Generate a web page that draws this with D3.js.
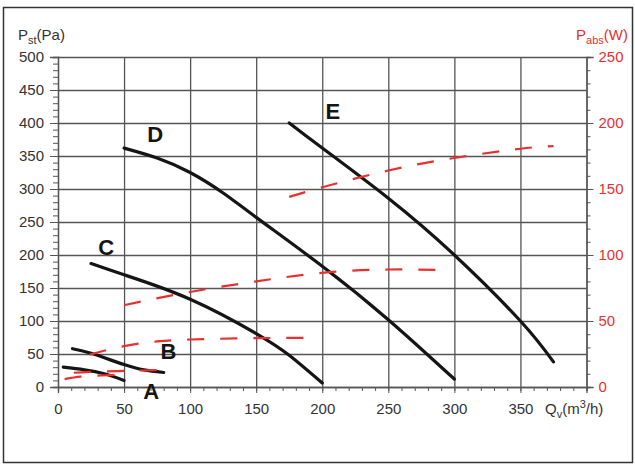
<!DOCTYPE html>
<html>
<head>
<meta charset="utf-8">
<script src="https://cdn.jsdelivr.net/npm/d3@7"></script>
<style>
	body { margin: 0; background: #fff; }
	svg { display: block; font-family: "Liberation Sans", Arial, sans-serif; }
	.axis path, .axis line { stroke: #555; }
	.grid line { stroke: #555; stroke-width: 1.3; }
	.grid path { display: none; }
</style>
</head>
<body>
<div id="chart-area"></div>
<script>

// ---- DATA ----
// Airflow Qv (m3/h) and static pressure Pst (Pa), one pair of arrays per fan
let qA = [4, 20, 35, 50],
	pstA = [30, 26, 20, 10];
let qB = [11, 25, 50, 65, 80],
	pstB = [58, 51, 34, 26, 22];
let qC = [25, 50, 100, 150, 175, 200],
	pstC = [187, 170, 133, 81, 48, 6];
let qD = [50, 75, 100, 125, 150, 200, 250, 300],
	pstD = [362, 347, 325, 294, 257, 183, 102, 12];
let qE = [175, 200, 250, 300, 350, 375],
	pstE = [400, 362, 286, 200, 100, 38];

// Absorbed power Pabs (W), red dashed curves
let qWA = [5, 17, 30, 43, 50],
	wA = [6, 7.8, 8.6, 9.2, 9.5];
let qWB = [12, 24, 45, 62, 80],
	wB = [10.8, 11.5, 12.1, 12.5, 13];
let qWC = [24, 50, 75, 100, 150, 195],
	wC = [24.5, 31, 34.5, 36, 37, 37.2];
let qWD = [50, 100, 150, 200, 250, 290],
	wD = [62, 72, 80, 86.5, 89, 88.6];
let qWE = [175, 200, 250, 300, 350, 375],
	wE = [144, 151.3, 164, 173.5, 180.5, 182.5];

// Curve letters and where they sit (Qv, Pst)
let labelNames = ["A", "B", "C", "D", "E"],
	labelQ = [70.5, 83.5, 36.5, 73.5, 208],
	labelPst = [-18, 42, 200, 371, 406];

// Tick labels
let qTicks = [0, 50, 100, 150, 200, 250, 300, 350],
	pstTicks = [0, 50, 100, 150, 200, 250, 300, 350, 400, 450, 500],
	wTicks = [0, 50, 100, 150, 200, 250];


// CHART AREA
let W = 635, H = 465;
let margin = {top: 57, right: 48.5, bottom: 78, left: 58};

let svg = d3.select("#chart-area").append("svg")
	.attr("width", W)
	.attr("height", H);

// outer frame
svg.append("rect")
	.attr("x", 3.5).attr("y", 7.5)
	.attr("width", 629).attr("height", 455)
	.attr("fill", "#fff")
	.attr("stroke", "#333")
	.attr("stroke-width", 1.5);

let x = d3.scaleLinear().domain([0, 400]).range([margin.left, W - margin.right]);
let y = d3.scaleLinear().domain([0, 500]).range([H - margin.bottom, margin.top]);
let yW = d3.scaleLinear().domain([0, 250]).range([H - margin.bottom, margin.top]);

// GRID
svg.append("g")
	.attr("class", "grid")
	.attr("transform", "translate(0," + y(0) + ")")
	.call(d3.axisBottom(x).tickValues(d3.range(50, 400, 50)).tickSize(-(y(0) - y(500))).tickFormat(""));

svg.append("g")
	.attr("class", "grid")
	.attr("transform", "translate(" + x(0) + ",0)")
	.call(d3.axisLeft(y).tickValues(d3.range(50, 550, 50)).tickSize(-(x(400) - x(0))).tickFormat(""));

// AXIS - minor ticks
svg.append("g")
	.attr("class", "axis")
	.attr("transform", "translate(" + x(0) + ",0)")
	.call(d3.axisLeft(y).tickValues(d3.range(0, 501, 10)).tickSize(5).tickFormat(""));

svg.append("g")
	.attr("class", "axis")
	.attr("transform", "translate(0," + y(0) + ")")
	.call(d3.axisBottom(x).tickValues(d3.range(0, 401, 10)).tickSize(4).tickFormat(""));

svg.append("g")
	.attr("class", "axis")
	.attr("transform", "translate(" + x(400) + ",0)")
	.call(d3.axisRight(yW).tickValues(d3.range(0, 251, 10)).tickSize(4).tickFormat(""));

// AXIS - major ticks with labels
let yAxis = svg.append("g")
	.attr("class", "axis")
	.attr("transform", "translate(" + x(0) + ",0)")
	.call(d3.axisLeft(y).tickValues(pstTicks).tickSize(8).tickPadding(6));

let xAxis = svg.append("g")
	.attr("class", "axis")
	.attr("transform", "translate(0," + y(0) + ")")
	.call(d3.axisBottom(x).tickValues(qTicks).tickSize(6).tickPadding(10));

let wAxis = svg.append("g")
	.attr("class", "axis")
	.attr("transform", "translate(" + x(400) + ",0)")
	.call(d3.axisRight(yW).tickValues(wTicks).tickSize(7).tickPadding(5));

svg.selectAll(".axis path").attr("stroke-width", 1.3);
svg.selectAll(".axis text")
	.attr("font-size", 15)
	.attr("font-family", "Liberation Sans, Arial, sans-serif")
	.attr("fill", "#333");
wAxis.selectAll("text").attr("fill", "#e8302f");


// ---- DRAW CURVES ----
let line = d3.line()
	.x(d => x(d[0]))
	.y(d => d[1])
	.curve(d3.curveNatural);

let pstCurves = [[qA, pstA], [qB, pstB], [qC, pstC], [qD, pstD], [qE, pstE]];
let wCurves = [[qWA, wA], [qWB, wB], [qWC, wC], [qWD, wD], [qWE, wE]];

svg.selectAll(".pst")
	.data(pstCurves)
	.enter()
	.append("path")
	.attr("class", "pst")
	.attr("fill", "none")
	.attr("stroke", "#151515")
	.attr("stroke-width", 3.2)
	.attr("stroke-linecap", "round")
	.attr("d", c => line(c[0].map((q, i) => [q, y(c[1][i])])));

svg.selectAll(".pabs")
	.data(wCurves)
	.enter()
	.append("path")
	.attr("class", "pabs")
	.attr("fill", "none")
	.attr("stroke", "#e8302f")
	.attr("stroke-width", 2.2)
	.attr("stroke-dasharray", "17,16")
	.attr("d", c => line(c[0].map((q, i) => [q, yW(c[1][i])])));

// curve letters
svg.selectAll(".curve-label")
	.data(labelNames)
	.enter()
	.append("text")
	.attr("class", "curve-label")
	.attr("x", (d, i) => x(labelQ[i]))
	.attr("y", (d, i) => y(labelPst[i]))
	.attr("text-anchor", "middle")
	.attr("font-size", 22)
	.attr("font-weight", "bold")
	.attr("fill", "#151515")
	.text(d => d);


// ---- AXIS TITLES ----
let tLeft = svg.append("text")
	.attr("x", 18).attr("y", 40)
	.attr("font-size", 15)
	.attr("fill", "#333");
tLeft.append("tspan").text("P");
tLeft.append("tspan").attr("font-size", 11).attr("dy", 4).text("st");
tLeft.append("tspan").attr("dy", -4).text("(Pa)");

let tRight = svg.append("text")
	.attr("x", 628).attr("y", 40)
	.attr("text-anchor", "end")
	.attr("font-size", 15)
	.attr("fill", "#e8302f");
tRight.append("tspan").text("P");
tRight.append("tspan").attr("font-size", 11).attr("dy", 4).text("abs");
tRight.append("tspan").attr("dy", -4).text("(W)");

let tBottom = svg.append("text")
	.attr("x", 545).attr("y", 414)
	.attr("font-size", 15)
	.attr("fill", "#333");
tBottom.append("tspan").text("Q");
tBottom.append("tspan").attr("font-size", 11).attr("dy", 4).text("v");
tBottom.append("tspan").attr("dy", -4).text("(m");
tBottom.append("tspan").attr("font-size", 11).attr("dy", -6).text("3");
tBottom.append("tspan").attr("dy", 6).text("/h)");

</script>
</body>
</html>
